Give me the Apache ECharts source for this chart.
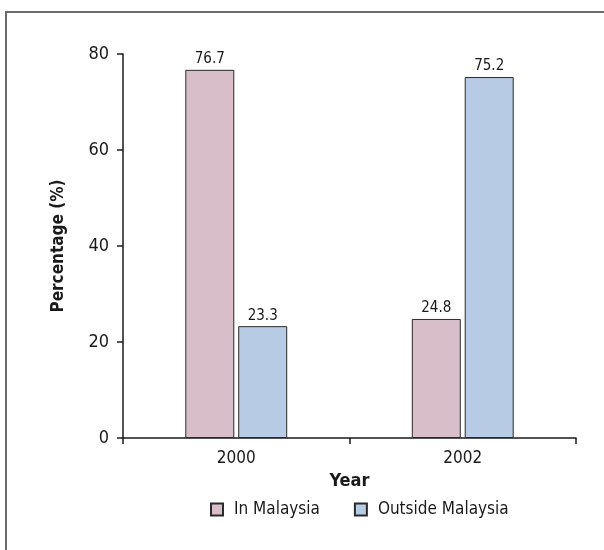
<!DOCTYPE html>
<html>
<head>
<meta charset="utf-8">
<script src="https://cdn.jsdelivr.net/npm/echarts@6/dist/echarts.min.js"></script>
<style>
  html, body { margin: 0; padding: 0; background: #fff; }
  #chart { width: 604px; height: 550px; }
</style>
</head>
<body>
<div id="chart"></div>
<script>
// Share of respondents by location, per survey year
const years = ['2000', '2002'];
const inMalaysia = [76.7, 24.8];
const outsideMalaysia = [23.3, 75.2];
const yTicks = { min: 0, max: 80, interval: 20 };

const FONT = '"Liberation Sans Narrow", "DejaVu Sans Condensed", sans-serif';
const INK = '#1a1a1a';

const chart = echarts.init(document.getElementById('chart'), null, { renderer: 'canvas' });

const barStyle = (color) => ({
  color: color,
  borderColor: '#2a2a2a',
  borderWidth: 1
});

const valueLabel = {
  show: true,
  position: 'top',
  distance: 3,
  fontFamily: FONT,
  fontSize: 15,
  color: INK,
  formatter: (p) => p.value.toFixed(1)
};

chart.setOption({
  animation: false,
  backgroundColor: '#fff',
  textStyle: { fontFamily: FONT },
  graphic: [{
    type: 'polyline',
    silent: true,
    shape: { points: [[6, 550], [6, 12], [604, 12]] },
    style: { stroke: '#6a6a6a', lineWidth: 2, fill: null }
  }],
  grid: { left: 123, right: 28, top: 54, bottom: 112, containLabel: false },
  legend: {
    left: 210,
    top: 501,
    padding: 0,
    icon: 'rect',
    itemWidth: 12,
    itemHeight: 12,
    itemGap: 34,
    textStyle: { fontFamily: FONT, fontSize: 17, color: INK, padding: [0, 0, 0, 6] },
    data: ['In Malaysia', 'Outside Malaysia']
  },
  xAxis: {
    type: 'category',
    data: years,
    name: 'Year',
    nameLocation: 'middle',
    nameGap: 29,
    nameTextStyle: { fontFamily: FONT, fontSize: 18, fontWeight: 'bold', color: INK },
    axisLine: { lineStyle: { color: INK, width: 1.5 } },
    axisTick: { show: true, inside: false, length: 6, lineStyle: { color: INK, width: 1.5 } },
    axisLabel: { fontFamily: FONT, fontSize: 17, color: INK, margin: 12 },
    splitLine: { show: false }
  },
  yAxis: {
    type: 'value',
    min: yTicks.min,
    max: yTicks.max,
    interval: yTicks.interval,
    name: 'Percentage (%)',
    nameLocation: 'middle',
    nameGap: 56,
    nameTextStyle: { fontFamily: FONT, fontSize: 17, fontWeight: 'bold', color: INK },
    axisLine: { show: true, lineStyle: { color: INK, width: 1.5 } },
    axisTick: { show: true, inside: false, length: 6, lineStyle: { color: INK, width: 1.5 } },
    axisLabel: { fontFamily: FONT, fontSize: 18, color: INK, margin: 14 },
    splitLine: { show: false }
  },
  series: [
    {
      name: 'In Malaysia',
      type: 'bar',
      data: inMalaysia,
      barWidth: 49,
      barGap: '8%',
      itemStyle: barStyle('#d8bec8'),
      label: valueLabel
    },
    {
      name: 'Outside Malaysia',
      type: 'bar',
      data: outsideMalaysia,
      barWidth: 49,
      barGap: '8%',
      itemStyle: barStyle('#b8cbe4'),
      label: valueLabel
    }
  ]
});
</script>
</body>
</html>
